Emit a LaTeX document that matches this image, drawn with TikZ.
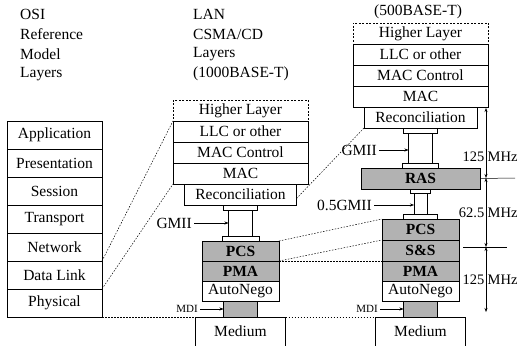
\documentclass[tikz,border=0pt]{standalone}
\usepackage{fontspec}
\setmainfont{Liberation Serif}
\usetikzlibrary{arrows.meta, positioning}

\begin{document}
\begin{tikzpicture}[
    x=1pt, y=-1pt,
    node distance=0pt,
    txt/.style={font=\fontsize{15.5}{15.5}\selectfont, inner sep=0pt},
    layer/.style={draw, line width=0.7pt, minimum width=135pt, minimum height=21pt,
                  inner sep=0pt, outer sep=0pt, font=\fontsize{15.5}{15.5}\selectfont},
    toplayer/.style={layer, dash pattern=on 2pt off 1.5pt, line width=0.5pt},
    osilayer/.style={layer, minimum width=95pt, minimum height=28pt},
    phylayer/.style={layer, minimum width=77pt, minimum height=20pt},
    grey/.style={fill=black!30, font=\fontsize{15.5}{15.5}\selectfont\bfseries},
    flange/.style={draw, line width=0.6pt, minimum height=5pt, inner sep=0pt, outer sep=0pt},
    stem/.style={draw, line width=0.6pt, inner sep=0pt, outer sep=0pt},
    mdibox/.style={draw, line width=0.6pt, fill=black!30, minimum width=34pt,
                   minimum height=16pt, inner sep=0pt, outer sep=0pt},
    medium/.style={draw, line width=0.7pt, minimum width=90pt, inner sep=0pt,
                   inner ysep=5pt, text height=14pt, text depth=16pt, outer sep=0pt,
                   font=\fontsize{15.5}{15.5}\selectfont},
    zoomline/.style={dash pattern=on 1.5pt off 1.5pt, line width=0.5pt},
    feed/.style={-{Stealth[length=4pt, width=3pt]}, line width=0.5pt},
    dim/.style={{Stealth[length=4pt, width=3pt]}-{Stealth[length=4pt, width=3pt]}, line width=0.5pt},
    small/.style={font=\fontsize{11}{11}\selectfont, inner sep=0pt}
  ]
  \useasboundingbox (0,0) rectangle (518,345);

  % column headings
  \node[txt, anchor=west] (osiA) at (20,14) {OSI};
  \node[txt, anchor=west] (osiB) at (20,34) {Reference};
  \node[txt, anchor=west] (osiC) at (20,54) {Model};
  \node[txt, anchor=west] (osiD) at (20,74) {Layers};
  \node[txt, anchor=west] (lanA) at (193,14) {LAN};
  \node[txt, anchor=west] (lanB) at (193,34) {CSMA/CD};
  \node[txt, anchor=west] (lanC) at (193,54) {Layers};
  \node[txt, anchor=west] (lanD) at (193,74) {(1000BASE-T)};
  \node[txt] (half) at (418,12) {(500BASE-T)};

  % OSI stack
  \node[osilayer] (app) at (54.5,135) {Application};
  \node[osilayer, below=of app] (pres) {Presentation};
  \node[osilayer, below=of pres] (sess) {Session};
  \node[osilayer, below=of sess] (trans) {Transport};
  \node[osilayer, below=of trans] (net) {Network};
  \node[osilayer, below=of net] (link) {Data Link};
  \node[osilayer, below=of link] (phys) {Physical};

  % 1000BASE-T stack
  \node[toplayer] (mHigh) at (240.5,110.5) {Higher Layer};
  \node[layer, below=of mHigh] (mLLC) {LLC or other};
  \node[layer, below=of mLLC] (mCtrl) {MAC Control};
  \node[layer, below=of mCtrl] (mMAC) {MAC};
  \node[layer, minimum width=112pt, below=of mMAC] (mRec) {Reconciliation};
  \node[flange, minimum width=34pt, below=of mRec] (mTop) {};
  \node[stem, minimum width=24pt, minimum height=26pt, below=of mTop] (mStem) {};
  \node[flange, minimum width=37pt, below=of mStem] (mBot) {};
  \node[phylayer, grey, below=of mBot] (mPCS) {PCS};
  \node[phylayer, grey, below=of mPCS] (mPMA) {PMA};
  \node[phylayer, below=of mPMA] (mAuto) {AutoNego};
  \node[mdibox, below=of mAuto] (mMDI) {};
  \node[medium, below=of mMDI] (mMed) {Medium};

  % 500BASE-T stack
  \node[toplayer] (rHigh) at (420.5,33.5) {Higher Layer};
  \node[layer, below=of rHigh] (rLLC) {LLC or other};
  \node[layer, below=of rLLC] (rCtrl) {MAC Control};
  \node[layer, below=of rCtrl] (rMAC) {MAC};
  \node[layer, minimum width=113pt, below=of rMAC] (rRec) {Reconciliation};
  \node[flange, minimum width=34pt, below=of rRec] (rTop) {};
  \node[stem, minimum width=24pt, minimum height=30pt, below=of rTop] (rStem) {};
  \node[flange, minimum width=36pt, below=of rStem] (rBot) {};
  \node[layer, grey, minimum width=119pt, below=of rBot] (rRAS) {RAS};
  \node[flange, minimum width=20pt, minimum height=4pt, below=of rRAS] (rTop2) {};
  \node[stem, minimum width=13pt, minimum height=21pt, below=of rTop2] (rStem2) {};
  \node[flange, minimum width=34pt, below=of rStem2] (rBot2) {};
  \node[phylayer, grey, minimum height=21pt, below=of rBot2] (rPCS) {PCS};
  \node[phylayer, grey, minimum height=21pt, below=of rPCS] (rSS) {S\&S};
  \node[phylayer, grey, below=of rSS] (rPMA) {PMA};
  \node[phylayer, below=of rPMA] (rAuto) {AutoNego};
  \node[mdibox, below=of rAuto] (rMDI) {};
  \node[medium, below=of rMDI] (rMed) {Medium};

  % interface labels
  \node[txt, anchor=east] (mGMII) at (192,223) {GMII};
  \draw[feed] (mGMII.east) ++(2,0) -- (mGMII.east -| mStem.west);
  \node[small, anchor=east] (mMDIl) at (198,309) {MDI};
  \draw[feed] (mMDIl.east) ++(2,0) -- (mMDIl.east -| mMDI.west);
  \node[txt, anchor=east] (rGMII) at (377,150) {GMII};
  \draw[feed] (rGMII.east) ++(2,0) -- (rGMII.east -| rStem.west);
  \node[txt, anchor=east] (rHalf) at (372,205) {0.5GMII};
  \draw[feed] (rHalf.east) ++(2,0) -- (rHalf.east -| rStem2.west);
  \node[small, anchor=east] (rMDIl) at (378,309) {MDI};
  \draw[feed] (rMDIl.east) ++(2,0) -- (rMDIl.east -| rMDI.west);

  % clock domains
  \coordinate (dTop) at (486,108);
  \coordinate (dA) at (486,178);
  \coordinate (dB) at (486,247);
  \coordinate (dBot) at (486,312);
  \draw[dim] (dTop) -- (dA);
  \draw[dim] (dA) -- (dB);
  \draw[dim] (dB) -- (dBot);
  \draw[line width=0.5pt] (rRAS.east) -- (515,178);
  \draw[line width=0.5pt] (463,247) -- (507,247);
  \node[txt, font=\fontsize{14.5}{14.5}\selectfont, anchor=east] (fA) at (484.5,157) {125};
  \node[txt, font=\fontsize{14.5}{14.5}\selectfont, anchor=west] (uA) at (487.5,157) {MHz};
  \node[txt, font=\fontsize{14.5}{14.5}\selectfont, anchor=east] (fB) at (484.5,213) {62.5};
  \node[txt, font=\fontsize{14.5}{14.5}\selectfont, anchor=west] (uB) at (487.5,213) {MHz};
  \node[txt, font=\fontsize{14.5}{14.5}\selectfont, anchor=east] (fC) at (484.5,280) {125};
  \node[txt, font=\fontsize{14.5}{14.5}\selectfont, anchor=west] (uC) at (487.5,280) {MHz};

  % layer correspondence
  \draw[zoomline] (link.north east) -- (mLLC.north west);
  \draw[zoomline] (link.south east) -- (mMAC.south west);
  \draw[zoomline] (phys.south east) -- (mMed.north west);
  \draw[zoomline] (mMed.north east) -- (rMed.north west);
  \draw[zoomline] (mRec.east) ++(0,4) -- (rRec.south west);
  \draw[zoomline] (mPCS.north east) -- (rPCS.north west);
  \draw[zoomline] (mPMA.north east) -- (rSS.north west);
  \draw[zoomline] (mPMA.north east) -- (rPMA.north west);
\end{tikzpicture}
\end{document}
